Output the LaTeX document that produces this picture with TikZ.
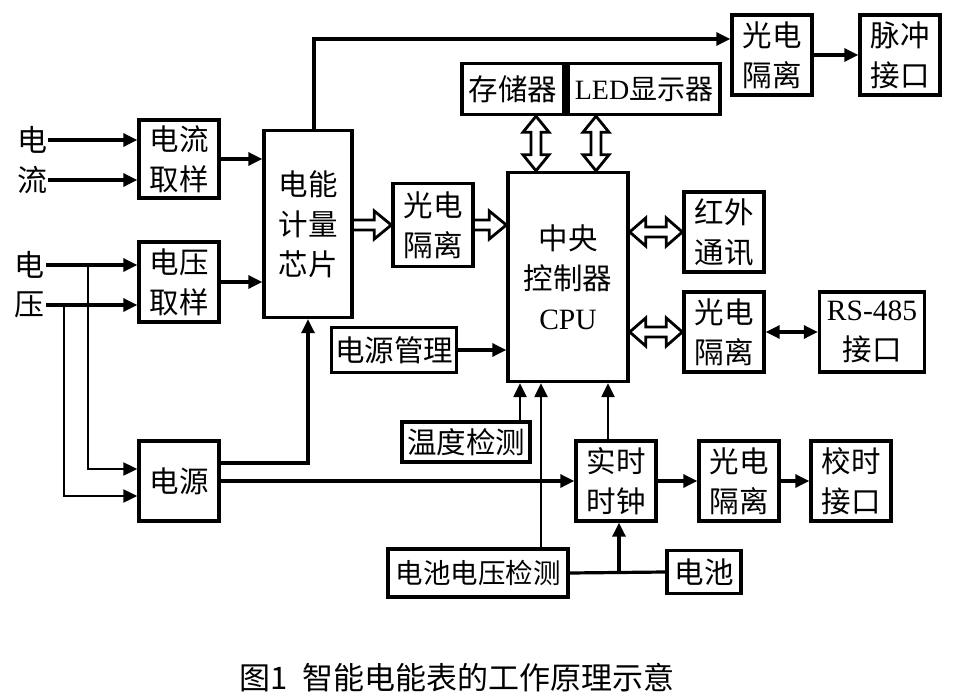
\documentclass[tikz,border=0pt]{standalone}
\usepackage{fontspec}
\newfontfamily\cjk{Noto Sans CJK SC}
\newfontfamily\lat{Liberation Serif}
\usetikzlibrary{arrows.meta,calc}

\begin{document}
\begin{tikzpicture}[x=1pt, y=-1pt,
  blk/.style={draw, line width=3.4pt, align=center, inner sep=0pt,
    font=\cjk\fontsize{29.5}{40}\selectfont},
  sq/.style={minimum width=80pt, minimum height=80pt},
  lbl/.style={inner sep=1pt, font=\cjk\fontsize{30}{40}\selectfont},
  conn/.style={line width=3.2pt, -{Triangle[length=14pt,width=13pt]}},
  hone/.style={line width=2.8pt, line join=miter, to path={($(\tikztostart)+(0,5)$) -- ($(\tikztotarget)+(-17,5)$)
    -- ($(\tikztotarget)+(-17,14)$) -- (\tikztotarget) -- ($(\tikztotarget)+(-17,-14)$)
    -- ($(\tikztotarget)+(-17,-5)$) -- ($(\tikztostart)+(0,-5)$)}},
  hbus/.style={line width=2.8pt, line join=miter, to path={(\tikztostart) -- ($(\tikztostart)+(16,14)$)
    -- ($(\tikztostart)+(16,5)$) -- ($(\tikztotarget)+(-16,5)$) -- ($(\tikztotarget)+(-16,14)$)
    -- (\tikztotarget) -- ($(\tikztotarget)+(-16,-14)$) -- ($(\tikztotarget)+(-16,-5)$)
    -- ($(\tikztostart)+(16,-5)$) -- ($(\tikztostart)+(16,-14)$) -- cycle}},
  vbus/.style={line width=2.8pt, line join=miter, to path={(\tikztostart) -- ($(\tikztostart)+(13,16)$)
    -- ($(\tikztostart)+(5,16)$) -- ($(\tikztotarget)+(5,-16)$) -- ($(\tikztotarget)+(13,-16)$)
    -- (\tikztotarget) -- ($(\tikztotarget)+(-13,-16)$) -- ($(\tikztotarget)+(-5,-16)$)
    -- ($(\tikztostart)+(-5,16)$) -- ($(\tikztostart)+(-13,16)$) -- cycle}}]
    \useasboundingbox (0,0) rectangle (978,696);

    % input side
    \node[lbl] (iA) at (32,140) {电};
    \node[lbl] (iB) at (32,180) {流};
    \node[lbl] (vA) at (30,265) {电};
    \node[lbl] (vB) at (30,305) {压};

    \node[blk, sq, minimum height=78pt] (cur) at (179,159) {电流\\取样};
    \node[blk, sq] (volt) at (179,282) {电压\\取样};
    \node[blk, minimum width=88pt, minimum height=187pt] (chip) at (308,224) {电能\\计量\\芯片};
    \node[blk, sq] (pwr) at (179,481) {电源};

    % top right
    \node[blk, sq] (pulseiso) at (772,55) {光电\\隔离};
    \node[blk, sq] (pulse) at (900,55) {脉冲\\接口};
    \node[blk, minimum width=102pt, minimum height=51pt] (mem) at (513,89) {存储器};
    \node[blk, minimum width=152pt, minimum height=51pt, font=\cjk\fontsize{28}{40}\selectfont] (led) at (644,89) {{\lat LED}显示器};

    % cpu and its neighbours
    \node[blk, minimum width=120pt, minimum height=209pt] (cpu) at (568,277) {中央\\控制器\\{\lat CPU}};
    \node[blk, sq, minimum height=83pt] (iso1) at (433,225) {光电\\隔离};
    \node[blk, sq] (ir) at (724,232) {红外\\通讯};
    \node[blk, sq] (iso485) at (724,332) {光电\\隔离};
    \node[blk, minimum width=105pt, minimum height=80pt] (rs485) at (872,332) {{\lat RS-485}\\接口};
    \node[blk, minimum width=125pt, minimum height=45pt] (pm) at (394,350) {电源管理};
    \node[blk, minimum width=128pt, minimum height=40pt] (temp) at (466,442) {温度检测};

    % bottom row
    \node[blk, sq] (rtc) at (616,481) {实时\\时钟};
    \node[blk, sq] (iso3) at (739,481) {光电\\隔离};
    \node[blk, sq] (sync) at (851,481) {校时\\接口};
    \node[blk, minimum width=180pt, minimum height=48pt, font=\cjk\fontsize{27.5}{40}\selectfont] (batv) at (478,573) {电池电压检测};
    \node[blk, minimum width=74pt, minimum height=43pt] (bat) at (704,572) {电池};

    \coordinate (j1) at (88,265);
    \coordinate (j2) at (64,305);
    \coordinate (bj) at (619,572);

    \draw[conn] (iA) -- (iA -| cur.west);
    \draw[conn] (iB) -- (iB -| cur.west);
    \draw[conn] (vA) -- (vA -| volt.west);
    \draw[conn] (vB) -- (vB -| volt.west);
    \draw[conn, line width=2.2pt] (j1) |- ([yshift=12pt]pwr.west);
    \draw[conn, line width=2.2pt] (j2) |- ([yshift=-15pt]pwr.west);

    \draw[conn] (cur.east) -- (cur.east -| chip.west);
    \draw[conn] (volt.east) -- (volt.east -| chip.west);
    \draw[conn] ([yshift=18pt]pwr.east) -| (chip.south);
    \draw[conn] (pwr.east) -- (rtc.west);
    \draw[conn] ([xshift=6pt]chip.north) |- ([yshift=16pt]pulseiso.west);
    \draw[conn] (pulseiso) -- (pulse);

    \draw[hone] (chip.east |- iso1.west) to (iso1.west);
    \draw[hone] (iso1.east) to (iso1.east -| cpu.west);
    \draw[vbus] ([xshift=23pt]mem.south) to ([xshift=23pt]mem.south |- cpu.north);
    \draw[vbus] ([xshift=-48pt]led.south) to ([xshift=-48pt]led.south |- cpu.north);
    \draw[hbus] (ir.west -| cpu.east) to (ir.west);
    \draw[hbus] (iso485.west -| cpu.east) to (iso485.west);
    \draw[conn, {Triangle[length=14pt,width=13pt]}-{Triangle[length=14pt,width=13pt]}] (iso485) -- (rs485);

    \draw[conn] (pm.east) -- (pm.east -| cpu.west);
    \draw[conn, line width=2.4pt] ([xshift=54pt]temp.north) -- ([xshift=54pt]temp.north |- cpu.south);
    \draw[conn, line width=2.4pt] ([xshift=63pt]batv.north) -- ([xshift=63pt]batv.north |- cpu.south);
    \draw[conn, line width=2.4pt] ([xshift=-8pt]rtc.north) -- ([xshift=-8pt]rtc.north |- cpu.south);

    \draw[line width=3.2pt] (batv.east) -- (bat.west);
    \draw[conn] (bj) -- (bj |- rtc.south);
    \draw[conn] (rtc) -- (iso3);
    \draw[conn] (iso3) -- (sync);

    \node[font=\cjk\fontsize{31}{36}\selectfont] (cap) at (457,678) {图1\hspace{14pt}智能电能表的工作原理示意};
\end{tikzpicture}
\end{document}
